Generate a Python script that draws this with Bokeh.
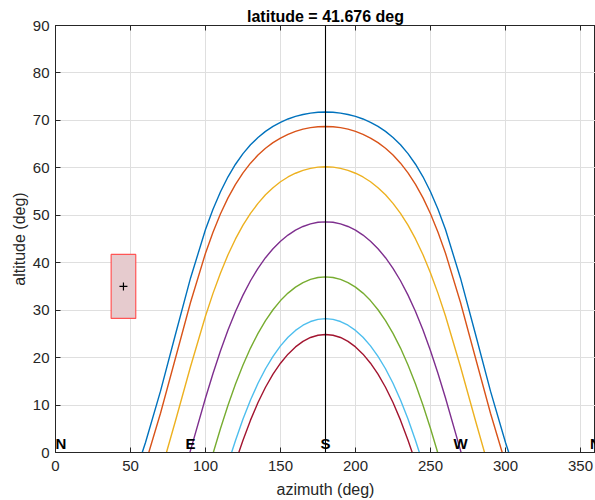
from bokeh.plotting import figure
from bokeh.models import ColumnDataSource, Span, LabelSet, LinearAxis, Range1d, FixedTicker
from bokeh.embed import file_html
from bokeh.resources import INLINE
from bokeh.core.properties import value

# ---------------- data ----------------
TITLE = "latitude = 41.676 deg"
X_LABEL = "azimuth (deg)"
Y_LABEL = "altitude (deg)"
X_TICKS = [0, 50, 100, 150, 200, 250, 300, 350]
Y_TICKS = [0, 10, 20, 30, 40, 50, 60, 70, 80, 90]

# sun paths (azimuth deg, altitude deg), one per declination
az_1 = [57.82, 60, 70, 80, 90, 100, 105, 110, 115, 120, 125, 130, 135, 140, 145, 150, 155, 160, 165, 170, 175, 180,
        185, 190, 195, 200, 205, 210, 215, 220, 225, 230, 235, 240, 245, 250, 255, 260, 270, 280, 290, 300, 302.18]
alt_1 = [0, 2.11, 12.93, 24.92, 36.74, 46.99, 51.27, 54.97, 58.11, 60.76, 62.99, 64.85, 66.39, 67.68, 68.74, 69.60,
         70.30, 70.84, 71.25, 71.54, 71.71, 71.76,
         71.71, 71.54, 71.25, 70.84, 70.30, 69.60, 68.74, 67.68, 66.39, 64.85, 62.99, 60.76, 58.11, 54.97, 51.27,
         46.99, 36.74, 24.92, 12.93, 2.11, 0]

az_2 = [62.18, 70, 80, 90, 100, 105, 110, 115, 120, 125, 130, 135, 140, 145, 150, 155, 160, 165, 170, 175, 180,
        185, 190, 195, 200, 205, 210, 215, 220, 225, 230, 235, 240, 245, 250, 255, 260, 270, 280, 290, 297.82]
alt_2 = [0, 8.28, 19.93, 31.62, 42.01, 46.44, 50.32, 53.66, 56.52, 58.94, 60.98, 62.70, 64.13, 65.31, 66.28, 67.07,
         67.68, 68.15, 68.47, 68.66, 68.72,
         68.66, 68.47, 68.15, 67.68, 67.07, 66.28, 65.31, 64.13, 62.70, 60.98, 58.94, 56.52, 53.66, 50.32, 46.44,
         42.01, 31.62, 19.93, 8.28, 0]

az_3 = [73.97, 80, 90, 100, 105, 110, 115, 120, 125, 130, 135, 140, 145, 150, 155, 160, 165, 170, 175, 180,
        185, 190, 195, 200, 205, 210, 215, 220, 225, 230, 235, 240, 245, 250, 255, 260, 270, 280, 286.03]
alt_3 = [0, 6.68, 18.07, 28.76, 33.54, 37.84, 41.67, 45.01, 47.91, 50.39, 52.51, 54.31, 55.81, 57.06, 58.07, 58.86,
         59.47, 59.89, 60.14, 60.22,
         60.14, 59.89, 59.47, 58.86, 58.07, 57.06, 55.81, 54.31, 52.51, 50.39, 47.91, 45.01, 41.67, 37.84, 33.54,
         28.76, 18.07, 6.68, 0]

az_4 = [89.60, 90, 100, 105, 110, 115, 120, 125, 130, 135, 140, 145, 150, 155, 160, 165, 170, 175, 180,
        185, 190, 195, 200, 205, 210, 215, 220, 225, 230, 235, 240, 245, 250, 255, 260, 270, 270.40]
alt_4 = [0, 0.45, 11.48, 16.64, 21.44, 25.80, 29.72, 33.17, 36.20, 38.81, 41.06, 42.95, 44.53, 45.83, 46.86, 47.64,
         48.19, 48.52, 48.62,
         48.52, 48.19, 47.64, 46.86, 45.83, 44.53, 42.95, 41.06, 38.81, 36.20, 33.17, 29.72, 25.80, 21.44, 16.64,
         11.48, 0.45, 0]

az_5 = [105.21, 110, 115, 120, 125, 130, 135, 140, 145, 150, 155, 160, 165, 170, 175, 180,
        185, 190, 195, 200, 205, 210, 215, 220, 225, 230, 235, 240, 245, 250, 254.79]
alt_5 = [0, 5.05, 9.96, 14.44, 18.45, 22.01, 25.12, 27.81, 30.09, 32.02, 33.60, 34.86, 35.82, 36.49, 36.89, 37.02,
         36.89, 36.49, 35.82, 34.86, 33.60, 32.02, 30.09, 27.81, 25.12, 22.01, 18.45, 14.44, 9.96, 5.05, 0]

az_6 = [117.40, 120, 125, 130, 135, 140, 145, 150, 155, 160, 165, 170, 175, 180,
        185, 190, 195, 200, 205, 210, 215, 220, 225, 230, 235, 240, 242.60]
alt_6 = [0, 2.54, 7.04, 11.06, 14.59, 17.65, 20.26, 22.47, 24.28, 25.73, 26.83, 27.61, 28.07, 28.22,
         28.07, 27.61, 26.83, 25.73, 24.28, 22.47, 20.26, 17.65, 14.59, 11.06, 7.04, 2.54, 0]

az_7 = [122.18, 125, 130, 135, 140, 145, 150, 155, 160, 165, 170, 175, 180,
        185, 190, 195, 200, 205, 210, 215, 220, 225, 230, 235, 237.82]
alt_7 = [0, 2.60, 6.82, 10.53, 13.75, 16.50, 18.82, 20.73, 22.25, 23.42, 24.24, 24.72, 24.88,
         24.72, 24.24, 23.42, 22.25, 20.73, 18.82, 16.50, 13.75, 10.53, 6.82, 2.60, 0]

PATH_AZ = [az_1, az_2, az_3, az_4, az_5, az_6, az_7]
PATH_ALT = [alt_1, alt_2, alt_3, alt_4, alt_5, alt_6, alt_7]
PATH_COLORS = ["#0072BD", "#D95319", "#EDB120", "#7E2F8E", "#77AC30", "#4DBEEE", "#A2142F"]

SOUTH_AZ = 180

# observed sun position with uncertainty box
SUN_AZ = 45.3
SUN_ALT = 35.0
AZ_ERR = 8.2
ALT_ERR = 6.75

# compass labels
DIR_NAMES = ["N", "E", "S", "W", "N"]
DIR_AZ = [0, 90, 180, 270, 360]
DIR_ALT = [0.8, 0.8, 0.8, 0.8, 0.8]

# ---------------- figure ----------------
FONT = "Liberation Sans"
AX_COLOR = "#262626"

p = figure(width=595, height=500, output_backend="svg", toolbar_location=None,
           x_range=Range1d(0, 360), y_range=Range1d(0, 90),
           min_border_left=55, min_border_right=0, min_border_top=25, min_border_bottom=48,
           title=TITLE)

p.title.text_font = FONT
p.title.text_font_size = "16px"
p.title.text_font_style = "bold"
p.title.text_color = "#000000"
p.title.align = "center"
p.title.standoff = 2

p.background_fill_color = "white"
p.border_fill_color = "white"
p.outline_line_color = AX_COLOR
p.outline_line_width = 1

xt = FixedTicker(ticks=X_TICKS)
yt = FixedTicker(ticks=Y_TICKS)

bottom_axis = p.below[0]
left_axis = p.left[0]
bottom_axis.ticker = xt
left_axis.ticker = yt
p.xgrid.ticker = xt
p.ygrid.ticker = yt
p.xgrid.grid_line_color = "#dfdfdf"
p.ygrid.grid_line_color = "#dfdfdf"

for ax in (bottom_axis, left_axis):
    ax.major_tick_in = 5
    ax.major_tick_out = 0
    ax.minor_tick_in = 0
    ax.minor_tick_out = 0
    ax.axis_line_color = AX_COLOR
    ax.major_tick_line_color = AX_COLOR
    ax.major_label_text_color = AX_COLOR
    ax.major_label_text_font = FONT
    ax.major_label_text_font_size = "15px"
    ax.axis_label_text_font = FONT
    ax.axis_label_text_font_size = "16px"
    ax.axis_label_text_font_style = "normal"
    ax.axis_label_text_color = AX_COLOR

bottom_axis.axis_label = X_LABEL
left_axis.axis_label = Y_LABEL
bottom_axis.major_label_standoff = 8
left_axis.major_label_standoff = 6
bottom_axis.axis_label_standoff = 7
left_axis.axis_label_standoff = 2

# top box edge with inward ticks (no labels)
top_axis = LinearAxis(ticker=xt, major_label_text_font_size="0px", major_label_standoff=0,
                      major_tick_in=5, major_tick_out=0, minor_tick_in=0, minor_tick_out=0,
                      axis_line_color=AX_COLOR, major_tick_line_color=AX_COLOR,
                      major_label_text_color=None)
p.add_layout(top_axis, "above")

# sun paths
for az, alt, col in zip(PATH_AZ, PATH_ALT, PATH_COLORS):
    p.line(az, alt, line_color=col, line_width=1.4)

# meridian
p.add_layout(Span(location=SOUTH_AZ, dimension="height", line_color="#000000", line_width=1.1))

# uncertainty box and observed position
p.quad(left=[SUN_AZ - AZ_ERR], right=[SUN_AZ + AZ_ERR], bottom=[SUN_ALT - ALT_ERR], top=[SUN_ALT + ALT_ERR],
       fill_color="#e6cbce", line_color="#ff5555", line_width=1.2)
p.scatter([SUN_AZ], [SUN_ALT], marker="cross", size=8, line_color="#000000", line_width=1.2)

# compass labels (first one kept inside the frame)
DIR_ALIGN = ["left", "center", "center", "center", "center"]
src = ColumnDataSource(dict(x=DIR_AZ, y=DIR_ALT, t=DIR_NAMES, a=DIR_ALIGN))
p.add_layout(LabelSet(x="x", y="y", text="t", source=src, text_align="a", text_baseline="alphabetic",
                      text_font=value(FONT), text_font_size=value("15px"), text_font_style="bold",
                      text_color="#000000"))

open("out.html", "w").write(file_html(p, INLINE))
